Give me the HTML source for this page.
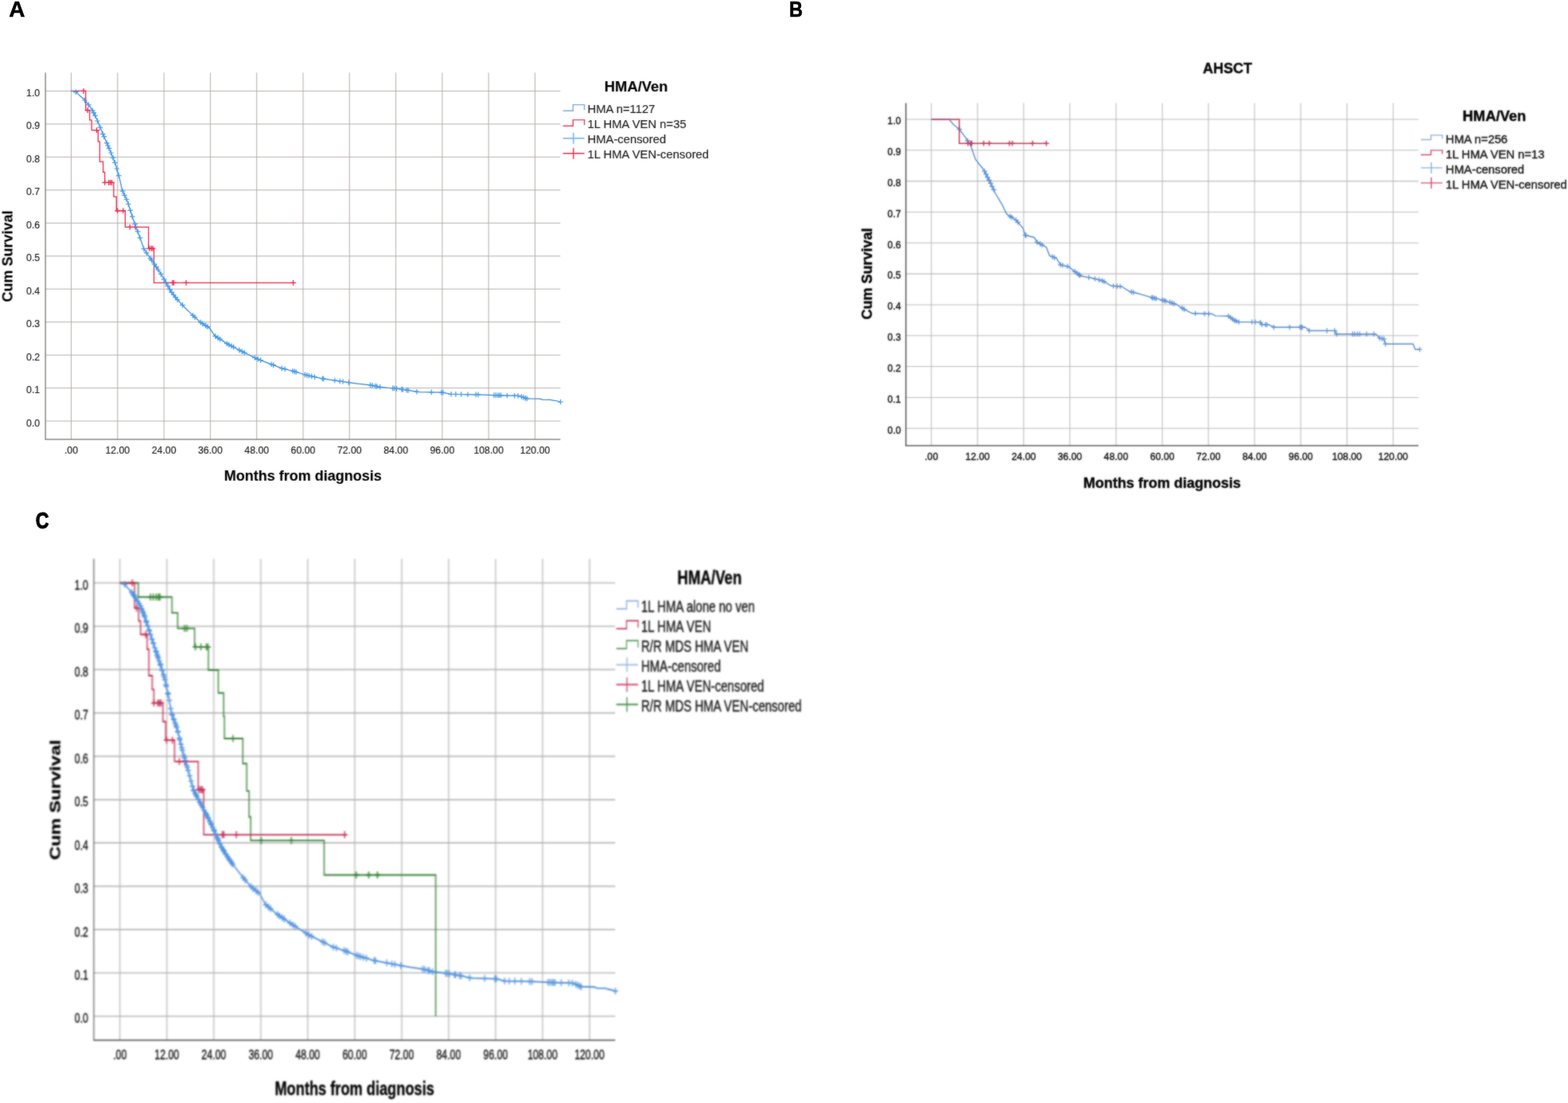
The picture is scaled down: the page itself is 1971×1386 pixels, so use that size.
<!DOCTYPE html>
<html lang="en">
<head>
<meta charset="utf-8">
<title>Kaplan-Meier survival curves</title>
<style>
html,body{margin:0;padding:0;background:#fff;}
body{width:1971px;height:1386px;overflow:hidden;font-family:"Liberation Sans",Arial,sans-serif;}
svg{display:block;}
svg text{font-family:"Liberation Sans",Arial,sans-serif;}
#panelC text{stroke:#0a0a0a;stroke-width:0.3px;}
#panelB text{stroke:#0a0a0a;stroke-width:0.4px;}
#panelA text{stroke:#151515;stroke-width:0.15px;}
</style>
</head>
<body>
<svg width="1971" height="1386" viewBox="0 0 1971 1386" font-family="'Liberation Sans', Arial, sans-serif">
<defs><filter id="bA" x="-3%" y="-3%" width="106%" height="106%" color-interpolation-filters="sRGB"><feGaussianBlur stdDeviation="0.8" result="b"/><feComposite in="b" in2="SourceGraphic" operator="arithmetic" k1="0" k2="0.35" k3="0.65" k4="0"/></filter><filter id="bB" x="-3%" y="-3%" width="106%" height="106%" color-interpolation-filters="sRGB"><feGaussianBlur stdDeviation="0.8" result="b"/><feComposite in="b" in2="SourceGraphic" operator="arithmetic" k1="0" k2="0.6" k3="0.4" k4="0"/></filter><filter id="bC" x="-3%" y="-3%" width="106%" height="106%" color-interpolation-filters="sRGB"><feGaussianBlur stdDeviation="0.8" result="b"/><feComposite in="b" in2="SourceGraphic" operator="arithmetic" k1="0" k2="0.85" k3="0.15" k4="0"/></filter></defs>
<rect width="1971" height="1386" fill="#fff"/>
<text transform="translate(11.2 20.6) scale(0.98 1)" font-size="28.5" font-weight="bold" text-anchor="start" fill="#000" stroke="#000" stroke-width="0.6" stroke-linejoin="round">A</text>
<text transform="translate(992 20.6) scale(0.83 1)" font-size="28.5" font-weight="bold" text-anchor="start" fill="#000" stroke="#000" stroke-width="0.6" stroke-linejoin="round">B</text>
<text transform="translate(44.7 664) scale(0.79 1)" font-size="29.3" font-weight="bold" text-anchor="start" fill="#000" stroke="#000" stroke-width="1" stroke-linejoin="round">C</text>
<g id="panelA" filter="url(#bA)"><g class="plot">
<path d="M89.5,91.3V552M147.8,91.3V552M206.1,91.3V552M264.4,91.3V552M322.7,91.3V552M381,91.3V552M439.3,91.3V552M497.6,91.3V552M555.9,91.3V552M614.2,91.3V552M672.5,91.3V552M57.1,529.1H704.4M57.1,487.6H704.4M57.1,446.2H704.4M57.1,404.7H704.4M57.1,363.2H704.4M57.1,321.8H704.4M57.1,280.3H704.4M57.1,238.8H704.4M57.1,197.3H704.4M57.1,155.9H704.4M57.1,114.4H704.4" stroke="#b4afa8" stroke-width="1.0" fill="none"/>
<path d="M57.1,91.3V552H704.4" stroke="#77736c" stroke-width="1.25" fill="none"/>
<polyline points="89.5,114.4 107.7,114.4 107.7,138.5 112.7,138.5 112.7,150.9 115.2,150.9 115.2,163.7 123.3,163.7 123.3,177.8 125.4,177.8 125.4,203.1 129.6,203.1 129.6,216.4 131.7,216.4 131.7,229.3 142.9,229.3 142.9,247.1 146.3,247.1 146.3,264.9 157.4,264.9 157.4,285.3 186.7,285.3 186.7,312.2 193.5,312.2 193.5,355.3 368.6,355.3" fill="none" stroke="#ee2045" stroke-width="1.25" />
<path d="M101.6,114.4h6.8M105,111v6.8M106.8,138.5h6.8M110.2,135.1v6.8M118.2,163.7h6.8M121.6,160.3v6.8M128.3,229.3h6.8M131.7,225.9v6.8M133.2,229.3h6.8M136.6,225.9v6.8M135.2,229.3h6.8M138.6,225.9v6.8M137.1,229.3h6.8M140.5,225.9v6.8M144.2,264.9h6.8M147.6,261.5v6.8M151.4,264.9h6.8M154.8,261.5v6.8M159.9,285.3h6.8M163.3,281.9v6.8M166.7,285.3h6.8M170.1,281.9v6.8M184.2,312.2h6.8M187.6,308.8v6.8M186.7,312.2h6.8M190.1,308.8v6.8M188.6,312.2h6.8M192,308.8v6.8M213.4,355.3h6.8M216.8,351.9v6.8M215.1,355.3h6.8M218.5,351.9v6.8M230.6,355.3h6.8M234,351.9v6.8M365.2,355.3h6.8M368.6,351.9v6.8" fill="none" stroke="#ee2045" stroke-width="1.3"/>
<polyline points="89.5,114.4 94.4,115 96,116.1 99.4,119.4 104.7,123.9 109.1,128.9 114.9,136.4 119.5,145.1 123.7,154.6 129.5,168.7 134.3,179.9 139.7,192.4 145.3,206.5 150.4,224.7 153.5,238.8 160.7,254.2 167,274.5 174.5,294.8 180.8,312.6 189.6,325.5 199.8,340.4 206.1,350.8 214.8,366.1 222.6,376.1 229.9,384 242.5,396.4 252.7,405.5 262.9,411.7 270.2,422.1 285.8,432.1 303.3,441.2 323.7,451.1 341.2,457.8 353.8,462.7 368.9,466.5 383.9,471 404.3,475.6 429.6,479.3 449.5,482.2 465.5,483.9 478.2,486.4 495.7,488 511.2,490.1 526.3,492.6 556.4,493.2 566.6,495.3 602.1,495.9 626.8,496.8 652.1,497.3 662.3,500.9 678.8,501.1 681.7,502.1 691.9,502.4 695.3,503.2 701.2,504 702.6,505 705.1,505" fill="none" stroke="#3585d8" stroke-width="1.25" stroke-linejoin="round"/>
<path d="M92,115.7h6.6M95.3,112.4v6.6M103.2,126h6.6M106.5,122.7v6.6M108.1,131.8h6.6M111.4,128.5v6.6M112.9,138.9h6.6M116.2,135.6v6.6M114.4,141.6h6.6M117.7,138.3v6.6M116.3,145.3h6.6M119.6,142v6.6M119.2,152h6.6M122.5,148.7v6.6M122.6,160.1h6.6M125.9,156.8v6.6M126,168.4h6.6M129.3,165.1v6.6M127.5,171.7h6.6M130.8,168.4v6.6M130.9,179.6h6.6M134.2,176.3v6.6M132.4,183h6.6M135.7,179.7v6.6M133.8,186.4h6.6M137.1,183.1v6.6M136.2,192h6.6M139.5,188.7v6.6M138.7,198.1h6.6M142,194.8v6.6M141.1,204.3h6.6M144.4,201v6.6M143.5,212h6.6M146.8,208.7v6.6M146,220.7h6.6M149.3,217.4v6.6M150.8,240.1h6.6M154.1,236.8v6.6M153.2,245.3h6.6M156.5,242v6.6M155.7,250.5h6.6M159,247.2v6.6M158.1,256.5h6.6M161.4,253.2v6.6M160.5,264.3h6.6M163.8,261v6.6M163,272.1h6.6M166.3,268.8v6.6M166.4,281.7h6.6M169.7,278.4v6.6M169.8,290.9h6.6M173.1,287.6v6.6M172.7,298.9h6.6M176,295.6v6.6M177.5,312.6h6.6M180.8,309.3v6.6M180.9,317.6h6.6M184.2,314.3v6.6M185.8,324.8h6.6M189.1,321.5v6.6M187.3,326.9h6.6M190.6,323.6v6.6M190.7,331.9h6.6M194,328.6v6.6M193.1,335.4h6.6M196.4,332.1v6.6M195.5,339h6.6M198.8,335.7v6.6M198.9,344.4h6.6M202.2,341.1v6.6M202.8,350.8h6.6M206.1,347.5v6.6M205.2,355h6.6M208.5,351.7v6.6M207.7,359.3h6.6M211,356v6.6M210.1,363.6h6.6M213.4,360.3v6.6M212.5,367.4h6.6M215.8,364.1v6.6M214.9,370.5h6.6M218.2,367.2v6.6M217.4,373.6h6.6M220.7,370.3v6.6M219.8,376.6h6.6M223.1,373.3v6.6M226.1,383.4h6.6M229.4,380.1v6.6M239.2,396.4h6.6M242.5,393.1v6.6M241.7,398.6h6.6M245,395.3v6.6M249,405.1h6.6M252.3,401.8v6.6M251.4,406.7h6.6M254.7,403.4v6.6M255.3,409.1h6.6M258.6,405.8v6.6M257.7,410.6h6.6M261,407.3v6.6M267.4,422.4h6.6M270.7,419.1v6.6M270.8,424.6h6.6M274.1,421.3v6.6M273.2,426.2h6.6M276.5,422.9v6.6M282,431.7h6.6M285.3,428.4v6.6M284.4,433.1h6.6M287.7,429.8v6.6M287.8,434.8h6.6M291.1,431.5v6.6M290.2,436.1h6.6M293.6,432.8v6.6M297.5,439.9h6.6M300.8,436.6v6.6M300.9,441.7h6.6M304.2,438.4v6.6M303.9,443.1h6.6M307.2,439.8v6.6M317,449.5h6.6M320.3,446.2v6.6M320.9,451.3h6.6M324.2,448v6.6M324.3,452.6h6.6M327.6,449.3v6.6M337.9,457.8h6.6M341.2,454.5v6.6M340.3,458.7h6.6M343.6,455.4v6.6M351,462.9h6.6M354.3,459.6v6.6M354.9,463.8h6.6M358.2,460.5v6.6M364.6,466.2h6.6M367.9,462.9v6.6M367,466.9h6.6M370.3,463.6v6.6M369,467.5h6.6M372.3,464.2v6.6M380.1,470.9h6.6M383.4,467.6v6.6M382.6,471.5h6.6M385.9,468.2v6.6M385,472h6.6M388.3,468.7v6.6M388.4,472.8h6.6M391.7,469.5v6.6M392.3,473.6h6.6M395.6,470.3v6.6M402,475.7h6.6M405.3,472.4v6.6M403.4,476h6.6M406.7,472.7v6.6M417.5,478h6.6M420.8,474.7v6.6M423.9,479h6.6M427.2,475.7v6.6M427.7,479.5h6.6M431,476.2v6.6M435,480.6h6.6M438.3,477.3v6.6M462.2,483.9h6.6M465.5,480.6v6.6M464.7,484.4h6.6M468,481.1v6.6M468.6,485.1h6.6M471.9,481.8v6.6M470.5,485.5h6.6M473.8,482.2v6.6M474.4,486.3h6.6M477.7,483v6.6M490.4,487.9h6.6M493.7,484.6v6.6M492.4,488h6.6M495.7,484.7v6.6M495.3,488.4h6.6M498.6,485.1v6.6M501.6,489.3h6.6M504.9,486v6.6M503,489.5h6.6M506.3,486.2v6.6M507.9,490.1h6.6M511.2,486.8v6.6M509.8,490.4h6.6M513.1,487.1v6.6M520.5,492.2h6.6M523.8,488.9v6.6M539,492.9h6.6M542.3,489.6v6.6M551.6,493.2h6.6M554.9,489.9v6.6M553.6,493.3h6.6M556.9,490v6.6M563.8,495.3h6.6M567.1,492v6.6M569.6,495.4h6.6M572.9,492.1v6.6M576.4,495.5h6.6M579.7,492.2v6.6M584.7,495.7h6.6M588,492.4v6.6M594.9,495.9h6.6M598.2,492.6v6.6M597.8,495.9h6.6M601.1,492.6v6.6M617.7,496.6h6.6M621,493.3v6.6M620.1,496.6h6.6M623.4,493.3v6.6M622.6,496.7h6.6M625.9,493.4v6.6M624.5,496.8h6.6M627.8,493.5v6.6M626.4,496.8h6.6M629.7,493.5v6.6M634.2,497h6.6M637.5,493.7v6.6M643.5,497.2h6.6M646.8,493.9v6.6M647.8,497.3h6.6M651.1,494v6.6M652.2,498.5h6.6M655.5,495.2v6.6M654.6,499.4h6.6M657.9,496.1v6.6M657.1,500.2h6.6M660.4,496.9v6.6M659,500.9h6.6M662.3,497.6v6.6M701.3,505h6.6M704.6,501.7v6.6" fill="none" stroke="#3f98e8" stroke-width="1.2"/>
</g>
<g class="tk" style="font-size:13.6px" fill="#151515">
<text transform="translate(50.2 535.5) scale(0.905 1)" font-size="13.6" font-weight="normal" text-anchor="end" fill="#151515">0.0</text>
<text transform="translate(50.2 494) scale(0.905 1)" font-size="13.6" font-weight="normal" text-anchor="end" fill="#151515">0.1</text>
<text transform="translate(50.2 452.6) scale(0.905 1)" font-size="13.6" font-weight="normal" text-anchor="end" fill="#151515">0.2</text>
<text transform="translate(50.2 411.1) scale(0.905 1)" font-size="13.6" font-weight="normal" text-anchor="end" fill="#151515">0.3</text>
<text transform="translate(50.2 369.6) scale(0.905 1)" font-size="13.6" font-weight="normal" text-anchor="end" fill="#151515">0.4</text>
<text transform="translate(50.2 328.1) scale(0.905 1)" font-size="13.6" font-weight="normal" text-anchor="end" fill="#151515">0.5</text>
<text transform="translate(50.2 286.7) scale(0.905 1)" font-size="13.6" font-weight="normal" text-anchor="end" fill="#151515">0.6</text>
<text transform="translate(50.2 245.2) scale(0.905 1)" font-size="13.6" font-weight="normal" text-anchor="end" fill="#151515">0.7</text>
<text transform="translate(50.2 203.7) scale(0.905 1)" font-size="13.6" font-weight="normal" text-anchor="end" fill="#151515">0.8</text>
<text transform="translate(50.2 162.3) scale(0.905 1)" font-size="13.6" font-weight="normal" text-anchor="end" fill="#151515">0.9</text>
<text transform="translate(50.2 120.8) scale(0.905 1)" font-size="13.6" font-weight="normal" text-anchor="end" fill="#151515">1.0</text>
<text transform="translate(89.5 570.4) scale(0.905 1)" font-size="13.6" font-weight="normal" text-anchor="middle" fill="#151515">.00</text>
<text transform="translate(147.8 570.4) scale(0.905 1)" font-size="13.6" font-weight="normal" text-anchor="middle" fill="#151515">12.00</text>
<text transform="translate(206.1 570.4) scale(0.905 1)" font-size="13.6" font-weight="normal" text-anchor="middle" fill="#151515">24.00</text>
<text transform="translate(264.4 570.4) scale(0.905 1)" font-size="13.6" font-weight="normal" text-anchor="middle" fill="#151515">36.00</text>
<text transform="translate(322.7 570.4) scale(0.905 1)" font-size="13.6" font-weight="normal" text-anchor="middle" fill="#151515">48.00</text>
<text transform="translate(381 570.4) scale(0.905 1)" font-size="13.6" font-weight="normal" text-anchor="middle" fill="#151515">60.00</text>
<text transform="translate(439.3 570.4) scale(0.905 1)" font-size="13.6" font-weight="normal" text-anchor="middle" fill="#151515">72.00</text>
<text transform="translate(497.6 570.4) scale(0.905 1)" font-size="13.6" font-weight="normal" text-anchor="middle" fill="#151515">84.00</text>
<text transform="translate(555.9 570.4) scale(0.905 1)" font-size="13.6" font-weight="normal" text-anchor="middle" fill="#151515">96.00</text>
<text transform="translate(614.2 570.4) scale(0.905 1)" font-size="13.6" font-weight="normal" text-anchor="middle" fill="#151515">108.00</text>
<text transform="translate(672.5 570.4) scale(0.905 1)" font-size="13.6" font-weight="normal" text-anchor="middle" fill="#151515">120.00</text>
</g>
<text x="380.8" y="604.4" font-size="18" font-weight="bold" text-anchor="middle" fill="#000">Months from diagnosis</text>
<text transform="translate(15.6 322) rotate(-90)" font-size="18" font-weight="bold" text-anchor="middle" fill="#000">Cum Survival</text>
<text x="799.7" y="115.4" font-size="18.4" font-weight="bold" text-anchor="middle" fill="#000">HMA/Ven</text>
<path d="M707.6,139.2h12.7v-7.6h14.3v6.6" fill="none" stroke="#7fa6e0" stroke-width="1.4"/>
<text transform="translate(738.5 142.3) scale(0.975 1)" font-size="15.2" font-weight="normal" text-anchor="start" fill="#1c1c1c">HMA n=1127</text>
<path d="M707.6,158.2h12.7v-7.6h14.3v6.6" fill="none" stroke="#ee3a5a" stroke-width="1.4"/>
<text transform="translate(738.5 161.3) scale(0.975 1)" font-size="15.2" font-weight="normal" text-anchor="start" fill="#1c1c1c">1L HMA VEN n=35</text>
<path d="M707.6,173.7h27M720.8,166.7v14" fill="none" stroke="#6aaeea" stroke-width="1.4"/>
<text transform="translate(738.5 180.3) scale(0.975 1)" font-size="15.2" font-weight="normal" text-anchor="start" fill="#1c1c1c">HMA-censored</text>
<path d="M707.6,192.7h27M720.8,185.7v14" fill="none" stroke="#ee2a4a" stroke-width="1.4"/>
<text transform="translate(738.5 199.3) scale(0.975 1)" font-size="15.2" font-weight="normal" text-anchor="start" fill="#1c1c1c">1L HMA VEN-censored</text></g>
<g id="panelB"><g filter="url(#bB)">
<g class="plot">
<path d="M1170.7,129.4V560M1228.8,129.4V560M1286.8,129.4V560M1344.8,129.4V560M1402.9,129.4V560M1461,129.4V560M1519,129.4V560M1577,129.4V560M1635.1,129.4V560M1693.2,129.4V560M1751.2,129.4V560M1138.7,538.2H1783M1138.7,499.4H1783M1138.7,460.5H1783M1138.7,421.7H1783M1138.7,382.9H1783M1138.7,344.1H1783M1138.7,305.2H1783M1138.7,266.4H1783M1138.7,227.6H1783M1138.7,188.7H1783M1138.7,149.9H1783" stroke="#bababa" stroke-width="1.05" fill="none"/>
<path d="M1138.7,129.4V560H1783" stroke="#5c5c5c" stroke-width="1.6" fill="none"/>
<polyline points="1170.7,149.9 1193,149.9 1199.2,157.3 1206,162.3 1213.3,172.4 1220,182.5 1226.3,200.4 1236.5,213.2 1244.2,228.3 1251.5,243.5 1259.2,256.3 1265.5,269.1 1277.1,276.5 1285.8,286.6 1288.7,295.5 1299.9,298.2 1303.7,304.4 1315.3,310.7 1319.2,321.1 1327.9,324.6 1333.2,332.8 1343.4,335.1 1351.1,341.3 1358.4,346.8 1371.5,349.1 1386.5,353 1396.6,359.2 1409.7,360 1419.8,366.2 1432.4,369.3 1447.9,373.9 1461,377.1 1470.6,379.8 1478.4,382.5 1488.5,388.7 1498.7,393.8 1523.8,394.5 1527.7,396.9 1544.2,397.2 1551.9,402.7 1557.2,404.6 1583.8,404.6 1586.2,407.7 1594.9,408.1 1601.2,411.2 1640.9,411.2 1645.7,415.5 1677.7,415.5 1680.1,419.8 1729.4,419.8 1734.3,425 1739.6,426 1741.5,432.2 1776.4,432.2 1778.8,439 1784.6,439" fill="none" stroke="#5388d4" stroke-width="1.4" stroke-linejoin="round"/>
<path d="M1448.1,374.8h6.4M1451.3,371.6v6.4M1450,375.2h6.4M1453.2,372v6.4M1457.8,377.1h6.4M1461,373.9v6.4M1460.2,377.7h6.4M1463.4,374.5v6.4M1462.1,378.3h6.4M1465.3,375.1v6.4M1202.8,162.3h6.4M1206,159.1v6.4M1213,176.7h6.4M1216.2,173.5v6.4M1234.3,215.1h6.4M1237.5,211.9v6.4M1236.2,218.9h6.4M1239.4,215.7v6.4M1238.1,222.7h6.4M1241.3,219.5v6.4M1240.1,226.4h6.4M1243.3,223.2v6.4M1242,230.4h6.4M1245.2,227.2v6.4M1243.9,234.4h6.4M1247.1,231.2v6.4M1245.9,238.4h6.4M1249.1,235.2v6.4M1266.7,271.9h6.4M1269.9,268.7v6.4M1268.6,273.1h6.4M1271.8,269.9v6.4M1273.9,276.5h6.4M1277.1,273.3v6.4M1276.3,279.3h6.4M1279.5,276.1v6.4M1285.5,295.5h6.4M1288.7,292.3v6.4M1286.5,295.7h6.4M1289.7,292.5v6.4M1300.5,304.4h6.4M1303.7,301.2v6.4M1304.4,306.5h6.4M1307.6,303.3v6.4M1306.8,307.8h6.4M1310,304.6v6.4M1319.9,322.7h6.4M1323.1,319.5v6.4M1322.3,323.7h6.4M1325.5,320.5v6.4M1330,332.8h6.4M1333.2,329.6v6.4M1332.5,333.3h6.4M1335.7,330.1v6.4M1338.7,334.8h6.4M1341.9,331.6v6.4M1347.9,341.3h6.4M1351.1,338.1v6.4M1350.4,343.1h6.4M1353.6,339.9v6.4M1352.8,345h6.4M1356,341.8v6.4M1354.2,346h6.4M1357.4,342.8v6.4M1365.4,348.6h6.4M1368.6,345.4v6.4M1373.1,350.4h6.4M1376.3,347.2v6.4M1378.4,351.7h6.4M1381.6,348.5v6.4M1382.3,352.7h6.4M1385.5,349.5v6.4M1384.7,353.9h6.4M1387.9,350.7v6.4M1396.3,359.4h6.4M1399.5,356.2v6.4M1401.2,359.7h6.4M1404.4,356.5v6.4M1405,359.9h6.4M1408.2,356.7v6.4M1419,366.8h6.4M1422.2,363.6v6.4M1421.5,367.4h6.4M1424.7,364.2v6.4M1444.7,373.9h6.4M1447.9,370.7v6.4M1445.7,374.2h6.4M1448.9,371v6.4M1467.4,379.8h6.4M1470.6,376.6v6.4M1470.3,380.8h6.4M1473.5,377.6v6.4M1472.7,381.6h6.4M1475.9,378.4v6.4M1482.9,387.2h6.4M1486.1,384v6.4M1485.3,388.7h6.4M1488.5,385.5v6.4M1499.4,393.9h6.4M1502.6,390.7v6.4M1511,394.2h6.4M1514.2,391v6.4M1516.3,394.4h6.4M1519.5,391.2v6.4M1541,397.2h6.4M1544.2,394v6.4M1543.9,399.3h6.4M1547.1,396.1v6.4M1546.3,401h6.4M1549.5,397.8v6.4M1548.7,402.7h6.4M1551.9,399.5v6.4M1550.6,403.4h6.4M1553.8,400.2v6.4M1554,404.6h6.4M1557.2,401.4v6.4M1570.5,404.6h6.4M1573.7,401.4v6.4M1574.8,404.6h6.4M1578,401.4v6.4M1581.1,405.2h6.4M1584.3,402v6.4M1583,407.7h6.4M1586.2,404.5v6.4M1587.4,407.9h6.4M1590.6,404.7v6.4M1589.3,408h6.4M1592.5,404.8v6.4M1598,411.2h6.4M1601.2,408v6.4M1617.9,411.2h6.4M1621.1,408v6.4M1630.9,411.2h6.4M1634.1,408v6.4M1632.4,411.2h6.4M1635.6,408v6.4M1633.8,411.2h6.4M1637,408v6.4M1642.5,415.5h6.4M1645.7,412.3v6.4M1664.8,415.5h6.4M1668,412.3v6.4M1674.5,415.5h6.4M1677.7,412.3v6.4M1676.9,419.8h6.4M1680.1,416.6v6.4M1697.2,419.8h6.4M1700.4,416.6v6.4M1699.6,419.8h6.4M1702.8,416.6v6.4M1703,419.8h6.4M1706.2,416.6v6.4M1705.9,419.8h6.4M1709.1,416.6v6.4M1714.6,419.8h6.4M1717.8,416.6v6.4M1723.8,419.8h6.4M1727,416.6v6.4M1731.1,425h6.4M1734.3,421.8v6.4M1734,425.5h6.4M1737.2,422.3v6.4M1736.4,426h6.4M1739.6,422.8v6.4M1738.3,432.2h6.4M1741.5,429v6.4M1781.4,439h6.4M1784.6,435.8v6.4" fill="none" stroke="#5a8fd8" stroke-width="1.2"/>
<polyline points="1170.7,149.9 1205.8,149.9 1205.8,180.2 1315.3,180.2" fill="none" stroke="#c8355a" stroke-width="1.5" />
<path d="M1213.3,180.2h6.8M1216.7,176.8v6.8M1216.6,180.2h6.8M1220,176.8v6.8M1218.1,180.2h6.8M1221.5,176.8v6.8M1233.1,180.2h6.8M1236.5,176.8v6.8M1240.1,180.2h6.8M1243.5,176.8v6.8M1265.5,180.2h6.8M1268.9,176.8v6.8M1269.1,180.2h6.8M1272.5,176.8v6.8M1294.5,180.2h6.8M1297.9,176.8v6.8M1311.9,180.2h6.8M1315.3,176.8v6.8" fill="none" stroke="#c8355a" stroke-width="1.4"/>
</g>
<g class="tk" style="font-size:13.6px" fill="#111">
<text transform="translate(1132.6 544.6) scale(0.9 1)" font-size="13.6" font-weight="normal" text-anchor="end" fill="#111">0.0</text>
<text transform="translate(1132.6 505.8) scale(0.9 1)" font-size="13.6" font-weight="normal" text-anchor="end" fill="#111">0.1</text>
<text transform="translate(1132.6 466.9) scale(0.9 1)" font-size="13.6" font-weight="normal" text-anchor="end" fill="#111">0.2</text>
<text transform="translate(1132.6 428.1) scale(0.9 1)" font-size="13.6" font-weight="normal" text-anchor="end" fill="#111">0.3</text>
<text transform="translate(1132.6 389.3) scale(0.9 1)" font-size="13.6" font-weight="normal" text-anchor="end" fill="#111">0.4</text>
<text transform="translate(1132.6 350.4) scale(0.9 1)" font-size="13.6" font-weight="normal" text-anchor="end" fill="#111">0.5</text>
<text transform="translate(1132.6 311.6) scale(0.9 1)" font-size="13.6" font-weight="normal" text-anchor="end" fill="#111">0.6</text>
<text transform="translate(1132.6 272.8) scale(0.9 1)" font-size="13.6" font-weight="normal" text-anchor="end" fill="#111">0.7</text>
<text transform="translate(1132.6 234) scale(0.9 1)" font-size="13.6" font-weight="normal" text-anchor="end" fill="#111">0.8</text>
<text transform="translate(1132.6 195.1) scale(0.9 1)" font-size="13.6" font-weight="normal" text-anchor="end" fill="#111">0.9</text>
<text transform="translate(1132.6 156.3) scale(0.9 1)" font-size="13.6" font-weight="normal" text-anchor="end" fill="#111">1.0</text>
<text transform="translate(1170.7 578.3) scale(0.9 1)" font-size="13.6" font-weight="normal" text-anchor="middle" fill="#111">.00</text>
<text transform="translate(1228.8 578.3) scale(0.9 1)" font-size="13.6" font-weight="normal" text-anchor="middle" fill="#111">12.00</text>
<text transform="translate(1286.8 578.3) scale(0.9 1)" font-size="13.6" font-weight="normal" text-anchor="middle" fill="#111">24.00</text>
<text transform="translate(1344.8 578.3) scale(0.9 1)" font-size="13.6" font-weight="normal" text-anchor="middle" fill="#111">36.00</text>
<text transform="translate(1402.9 578.3) scale(0.9 1)" font-size="13.6" font-weight="normal" text-anchor="middle" fill="#111">48.00</text>
<text transform="translate(1461 578.3) scale(0.9 1)" font-size="13.6" font-weight="normal" text-anchor="middle" fill="#111">60.00</text>
<text transform="translate(1519 578.3) scale(0.9 1)" font-size="13.6" font-weight="normal" text-anchor="middle" fill="#111">72.00</text>
<text transform="translate(1577 578.3) scale(0.9 1)" font-size="13.6" font-weight="normal" text-anchor="middle" fill="#111">84.00</text>
<text transform="translate(1635.1 578.3) scale(0.9 1)" font-size="13.6" font-weight="normal" text-anchor="middle" fill="#111">96.00</text>
<text transform="translate(1693.2 578.3) scale(0.9 1)" font-size="13.6" font-weight="normal" text-anchor="middle" fill="#111">108.00</text>
<text transform="translate(1751.2 578.3) scale(0.9 1)" font-size="13.6" font-weight="normal" text-anchor="middle" fill="#111">120.00</text>
</g>
<text x="1460.8" y="613.3" font-size="18" font-weight="bold" text-anchor="middle" fill="#000">Months from diagnosis</text>
<text transform="translate(1096 344) rotate(-90)" font-size="18" font-weight="bold" text-anchor="middle" fill="#000">Cum Survival</text>
<text x="1543" y="92" font-size="18" font-weight="bold" text-anchor="middle" fill="#000">AHSCT</text>
<text x="1878.4" y="152.3" font-size="18.4" font-weight="bold" text-anchor="middle" fill="#000">HMA/Ven</text>
<path d="M1786,175.5h12.7v-5.6h14.3v4.6" fill="none" stroke="#8fb0e0" stroke-width="1.4"/>
<text transform="translate(1817.3 179.5) scale(0.975 1)" font-size="15.2" font-weight="normal" text-anchor="start" fill="#1c1c1c">HMA n=256</text>
<path d="M1786,194.5h12.7v-5.6h14.3v4.6" fill="none" stroke="#d04a6c" stroke-width="1.4"/>
<text transform="translate(1817.3 198.5) scale(0.975 1)" font-size="15.2" font-weight="normal" text-anchor="start" fill="#1c1c1c">1L HMA VEN n=13</text>
<path d="M1786,210.9h27M1799.2,203.9v14" fill="none" stroke="#7fb0ea" stroke-width="1.4"/>
<text transform="translate(1817.3 217.5) scale(0.975 1)" font-size="15.2" font-weight="normal" text-anchor="start" fill="#1c1c1c">HMA-censored</text>
<path d="M1786,229.9h27M1799.2,222.9v14" fill="none" stroke="#d04a6c" stroke-width="1.4"/>
<text transform="translate(1817.3 236.5) scale(0.975 1)" font-size="15.2" font-weight="normal" text-anchor="start" fill="#1c1c1c">1L HMA VEN-censored</text>
</g></g>
<g id="panelC" transform="translate(60.08 582.3) scale(1.0125 1.313)"><g filter="url(#bC)"><g class="plot">
<path d="M89.5,91.3V552M147.8,91.3V552M206.1,91.3V552M264.4,91.3V552M322.7,91.3V552M381,91.3V552M439.3,91.3V552M497.6,91.3V552M555.9,91.3V552M614.2,91.3V552M672.5,91.3V552M57.1,529.1H704.4M57.1,487.6H704.4M57.1,446.2H704.4M57.1,404.7H704.4M57.1,363.2H704.4M57.1,321.8H704.4M57.1,280.3H704.4M57.1,238.8H704.4M57.1,197.3H704.4M57.1,155.9H704.4M57.1,114.4H704.4" stroke="#b6b6b6" stroke-width="1.3" fill="none"/>
<path d="M57.1,91.3V552H704.4" stroke="#606060" stroke-width="1.25" fill="none"/>
<polyline points="89.5,114.4 112.3,114.4 112.3,127.9 154.1,127.9 154.1,143 161.2,143 161.2,157.9 182.3,157.9 182.3,175.6 199.3,175.6 199.3,197.8 211.7,197.8 211.7,219.7 218.2,219.7 218.2,242.1 219.2,242.1 219.2,263.3 242.1,263.3 242.1,287.3 246.9,287.3 246.9,313.5 249.8,313.5 249.8,338.3 251.8,338.3 251.8,360.9 343.1,360.9 343.1,393.9 481.6,393.9 481.6,529.1" fill="none" stroke="#32802f" stroke-width="1.4" />
<path d="M124,127.9h6.8M127.4,124.5v6.8M127.6,127.9h6.8M131,124.5v6.8M131.3,127.9h6.8M134.7,124.5v6.8M134,127.9h6.8M137.4,124.5v6.8M135.7,127.9h6.8M139.1,124.5v6.8M166.3,157.9h6.8M169.7,154.5v6.8M169.2,157.9h6.8M172.6,154.5v6.8M179.9,175.6h6.8M183.3,172.2v6.8M186.7,175.6h6.8M190.1,172.2v6.8M193.5,175.6h6.8M196.9,172.2v6.8M195.4,175.6h6.8M198.8,172.2v6.8M226.5,263.3h6.8M229.9,259.9v6.8M261.5,360.9h6.8M264.9,357.5v6.8M298.9,360.9h6.8M302.3,357.5v6.8M379.5,393.9h6.8M382.9,390.5v6.8M395.1,393.9h6.8M398.5,390.5v6.8M405.8,393.9h6.8M409.2,390.5v6.8" fill="none" stroke="#32802f" stroke-width="1.4"/>
<polyline points="89.5,114.4 107.7,114.4 107.7,138.5 112.7,138.5 112.7,150.9 115.2,150.9 115.2,163.7 123.3,163.7 123.3,177.8 125.4,177.8 125.4,203.1 129.6,203.1 129.6,216.4 131.7,216.4 131.7,229.3 142.9,229.3 142.9,247.1 146.3,247.1 146.3,264.9 157.4,264.9 157.4,285.3 186.7,285.3 186.7,312.2 193.5,312.2 193.5,355.3 368.6,355.3" fill="none" stroke="#c9274f" stroke-width="1.4" />
<path d="M101.6,114.4h6.8M105,111v6.8M106.8,138.5h6.8M110.2,135.1v6.8M118.2,163.7h6.8M121.6,160.3v6.8M128.3,229.3h6.8M131.7,225.9v6.8M133.2,229.3h6.8M136.6,225.9v6.8M135.2,229.3h6.8M138.6,225.9v6.8M137.1,229.3h6.8M140.5,225.9v6.8M144.2,264.9h6.8M147.6,261.5v6.8M151.4,264.9h6.8M154.8,261.5v6.8M159.9,285.3h6.8M163.3,281.9v6.8M166.7,285.3h6.8M170.1,281.9v6.8M184.2,312.2h6.8M187.6,308.8v6.8M186.7,312.2h6.8M190.1,308.8v6.8M188.6,312.2h6.8M192,308.8v6.8M213.4,355.3h6.8M216.8,351.9v6.8M215.1,355.3h6.8M218.5,351.9v6.8M230.6,355.3h6.8M234,351.9v6.8M365.2,355.3h6.8M368.6,351.9v6.8" fill="none" stroke="#c9274f" stroke-width="1.4"/>
<polyline points="89.5,114.4 94.4,115 96,116.1 99.4,119.4 104.7,123.9 109.1,128.9 114.9,136.4 119.5,145.1 123.7,154.6 129.5,168.7 134.3,179.9 139.7,192.4 145.3,206.5 150.4,224.7 153.5,238.8 160.7,254.2 167,274.5 174.5,294.8 180.8,312.6 189.6,325.5 199.8,340.4 206.1,350.8 214.8,366.1 222.6,376.1 229.9,384 242.5,396.4 252.7,405.5 262.9,411.7 270.2,422.1 285.8,432.1 303.3,441.2 323.7,451.1 341.2,457.8 353.8,462.7 368.9,466.5 383.9,471 404.3,475.6 429.6,479.3 449.5,482.2 465.5,483.9 478.2,486.4 495.7,488 511.2,490.1 526.3,492.6 556.4,493.2 566.6,495.3 602.1,495.9 626.8,496.8 652.1,497.3 662.3,500.9 678.8,501.1 681.7,502.1 691.9,502.4 695.3,503.2 701.2,504 702.6,505 705.1,505" fill="none" stroke="#4588dc" stroke-width="1.35" stroke-linejoin="round"/>
<path d="M92,115.7h6.6M95.3,112.4v6.6M100.8,123.4h6.6M104.1,120.1v6.6M102.6,125.3h6.6M105.9,122v6.6M103.2,126h6.6M106.5,122.7v6.6M104.4,127.3h6.6M107.7,124v6.6M106.2,129.4h6.6M109.5,126.1v6.6M108,131.7h6.6M111.3,128.4v6.6M108.1,131.8h6.6M111.4,128.5v6.6M109.8,134h6.6M113.1,130.7v6.6M111.6,136.3h6.6M114.9,133v6.6M112.9,138.9h6.6M116.2,135.6v6.6M113.4,139.7h6.6M116.7,136.4v6.6M114.4,141.6h6.6M117.7,138.3v6.6M115.2,143.1h6.6M118.5,139.8v6.6M116.3,145.3h6.6M119.6,142v6.6M117,146.8h6.6M120.3,143.5v6.6M118.8,150.9h6.6M122.1,147.6v6.6M119.2,152h6.6M122.5,148.7v6.6M120.5,155.1h6.6M123.8,151.8v6.6M122.3,159.4h6.6M125.6,156.1v6.6M122.6,160.1h6.6M125.9,156.8v6.6M124.1,163.8h6.6M127.4,160.5v6.6M125.9,168.1h6.6M129.2,164.8v6.6M126,168.4h6.6M129.3,165.1v6.6M127.5,171.7h6.6M130.8,168.4v6.6M127.7,172.3h6.6M131,169v6.6M129.5,176.5h6.6M132.8,173.2v6.6M130.9,179.6h6.6M134.2,176.3v6.6M131.3,180.6h6.6M134.6,177.3v6.6M132.4,183h6.6M135.7,179.7v6.6M133.1,184.8h6.6M136.4,181.5v6.6M133.8,186.4h6.6M137.1,183.1v6.6M134.9,189h6.6M138.2,185.7v6.6M136.2,192h6.6M139.5,188.7v6.6M136.7,193.2h6.6M140,189.9v6.6M138.5,197.8h6.6M141.8,194.5v6.6M138.7,198.1h6.6M142,194.8v6.6M140.3,202.3h6.6M143.6,199v6.6M141.1,204.3h6.6M144.4,201v6.6M142.1,207h6.6M145.4,203.7v6.6M143.5,212h6.6M146.8,208.7v6.6M143.9,213.4h6.6M147.2,210.1v6.6M145.7,219.8h6.6M149,216.5v6.6M146,220.7h6.6M149.3,217.4v6.6M147.5,226.7h6.6M150.8,223.4v6.6M149.3,234.7h6.6M152.6,231.4v6.6M150.8,240.1h6.6M154.1,236.8v6.6M151.1,240.7h6.6M154.4,237.4v6.6M152.9,244.6h6.6M156.2,241.3v6.6M153.2,245.3h6.6M156.5,242v6.6M154.7,248.4h6.6M158,245.1v6.6M155.7,250.5h6.6M159,247.2v6.6M156.5,252.3h6.6M159.8,249v6.6M158.1,256.5h6.6M161.4,253.2v6.6M158.3,257.1h6.6M161.6,253.8v6.6M160.1,262.9h6.6M163.4,259.6v6.6M160.5,264.3h6.6M163.8,261v6.6M161.9,268.7h6.6M165.2,265.4v6.6M163,272.1h6.6M166.3,268.8v6.6M163.7,274.5h6.6M167,271.2v6.6M165.5,279.3h6.6M168.8,276v6.6M166.4,281.7h6.6M169.7,278.4v6.6M167.3,284.2h6.6M170.6,280.9v6.6M169.1,289h6.6M172.4,285.7v6.6M169.8,290.9h6.6M173.1,287.6v6.6M170.9,293.9h6.6M174.2,290.6v6.6M172.7,298.9h6.6M176,295.6v6.6M172.7,298.9h6.6M176,295.6v6.6M174.5,304h6.6M177.8,300.7v6.6M176.3,309.1h6.6M179.6,305.8v6.6M177.5,312.6h6.6M180.8,309.3v6.6M178.1,313.4h6.6M181.4,310.1v6.6M179.9,316.1h6.6M183.2,312.8v6.6M180.9,317.6h6.6M184.2,314.3v6.6M181.7,318.7h6.6M185,315.4v6.6M183.5,321.3h6.6M186.8,318v6.6M185.3,324h6.6M188.6,320.7v6.6M185.8,324.8h6.6M189.1,321.5v6.6M187.1,326.6h6.6M190.4,323.3v6.6M187.3,326.9h6.6M190.6,323.6v6.6M188.9,329.3h6.6M192.2,326v6.6M190.7,331.9h6.6M194,328.6v6.6M190.7,331.9h6.6M194,328.6v6.6M192.5,334.5h6.6M195.8,331.2v6.6M193.1,335.4h6.6M196.4,332.1v6.6M194.2,337.1h6.6M197.5,333.8v6.6M195.5,339h6.6M198.8,335.7v6.6M196,339.8h6.6M199.3,336.5v6.6M197.8,342.6h6.6M201.1,339.3v6.6M198.9,344.4h6.6M202.2,341.1v6.6M199.6,345.6h6.6M202.9,342.3v6.6M201.4,348.5h6.6M204.7,345.2v6.6M202.8,350.8h6.6M206.1,347.5v6.6M203.2,351.5h6.6M206.5,348.2v6.6M205,354.7h6.6M208.3,351.4v6.6M205.2,355h6.6M208.5,351.7v6.6M206.8,357.9h6.6M210.1,354.6v6.6M207.7,359.3h6.6M211,356v6.6M208.6,361h6.6M211.9,357.7v6.6M210.1,363.6h6.6M213.4,360.3v6.6M210.4,364.2h6.6M213.7,360.9v6.6M212.2,367h6.6M215.5,363.7v6.6M212.5,367.4h6.6M215.8,364.1v6.6M214,369.3h6.6M217.3,366v6.6M214.9,370.5h6.6M218.2,367.2v6.6M215.8,371.6h6.6M219.1,368.3v6.6M217.4,373.6h6.6M220.7,370.3v6.6M217.6,373.9h6.6M220.9,370.6v6.6M219.4,376.2h6.6M222.7,372.9v6.6M219.8,376.6h6.6M223.1,373.3v6.6M221.2,378.1h6.6M224.5,374.8v6.6M223,380.1h6.6M226.3,376.8v6.6M224.8,382h6.6M228.1,378.7v6.6M226.1,383.4h6.6M229.4,380.1v6.6M239.2,396.4h6.6M242.5,393.1v6.6M241.7,398.6h6.6M245,395.3v6.6M249,405.1h6.6M252.3,401.8v6.6M251.4,406.7h6.6M254.7,403.4v6.6M255.3,409.1h6.6M258.6,405.8v6.6M257.7,410.6h6.6M261,407.3v6.6M267.4,422.4h6.6M270.7,419.1v6.6M270.8,424.6h6.6M274.1,421.3v6.6M273.2,426.2h6.6M276.5,422.9v6.6M282,431.7h6.6M285.3,428.4v6.6M284.4,433.1h6.6M287.7,429.8v6.6M287.8,434.8h6.6M291.1,431.5v6.6M290.2,436.1h6.6M293.6,432.8v6.6M297.5,439.9h6.6M300.8,436.6v6.6M300.9,441.7h6.6M304.2,438.4v6.6M303.9,443.1h6.6M307.2,439.8v6.6M317,449.5h6.6M320.3,446.2v6.6M320.9,451.3h6.6M324.2,448v6.6M324.3,452.6h6.6M327.6,449.3v6.6M337.9,457.8h6.6M341.2,454.5v6.6M340.3,458.7h6.6M343.6,455.4v6.6M351,462.9h6.6M354.3,459.6v6.6M354.9,463.8h6.6M358.2,460.5v6.6M364.6,466.2h6.6M367.9,462.9v6.6M367,466.9h6.6M370.3,463.6v6.6M369,467.5h6.6M372.3,464.2v6.6M380.1,470.9h6.6M383.4,467.6v6.6M382.6,471.5h6.6M385.9,468.2v6.6M385,472h6.6M388.3,468.7v6.6M388.4,472.8h6.6M391.7,469.5v6.6M392.3,473.6h6.6M395.6,470.3v6.6M402,475.7h6.6M405.3,472.4v6.6M403.4,476h6.6M406.7,472.7v6.6M417.5,478h6.6M420.8,474.7v6.6M423.9,479h6.6M427.2,475.7v6.6M427.7,479.5h6.6M431,476.2v6.6M435,480.6h6.6M438.3,477.3v6.6M462.2,483.9h6.6M465.5,480.6v6.6M464.7,484.4h6.6M468,481.1v6.6M468.6,485.1h6.6M471.9,481.8v6.6M470.5,485.5h6.6M473.8,482.2v6.6M474.4,486.3h6.6M477.7,483v6.6M490.4,487.9h6.6M493.7,484.6v6.6M492.4,488h6.6M495.7,484.7v6.6M495.3,488.4h6.6M498.6,485.1v6.6M501.6,489.3h6.6M504.9,486v6.6M503,489.5h6.6M506.3,486.2v6.6M507.9,490.1h6.6M511.2,486.8v6.6M509.8,490.4h6.6M513.1,487.1v6.6M520.5,492.2h6.6M523.8,488.9v6.6M539,492.9h6.6M542.3,489.6v6.6M551.6,493.2h6.6M554.9,489.9v6.6M553.6,493.3h6.6M556.9,490v6.6M563.8,495.3h6.6M567.1,492v6.6M569.6,495.4h6.6M572.9,492.1v6.6M576.4,495.5h6.6M579.7,492.2v6.6M584.7,495.7h6.6M588,492.4v6.6M594.9,495.9h6.6M598.2,492.6v6.6M597.8,495.9h6.6M601.1,492.6v6.6M617.7,496.6h6.6M621,493.3v6.6M620.1,496.6h6.6M623.4,493.3v6.6M622.6,496.7h6.6M625.9,493.4v6.6M624.5,496.8h6.6M627.8,493.5v6.6M626.4,496.8h6.6M629.7,493.5v6.6M634.2,497h6.6M637.5,493.7v6.6M643.5,497.2h6.6M646.8,493.9v6.6M647.8,497.3h6.6M651.1,494v6.6M652.2,498.5h6.6M655.5,495.2v6.6M654.6,499.4h6.6M657.9,496.1v6.6M657.1,500.2h6.6M660.4,496.9v6.6M659,500.9h6.6M662.3,497.6v6.6M701.3,505h6.6M704.6,501.7v6.6" fill="none" stroke="#5294e2" stroke-width="1.25"/>
</g>
<g class="tk" style="font-size:12.4px" fill="#151515">
<text transform="translate(50.2 535.5) scale(0.98 1)" font-size="12.4" font-weight="normal" text-anchor="end" fill="#151515">0.0</text>
<text transform="translate(50.2 494) scale(0.98 1)" font-size="12.4" font-weight="normal" text-anchor="end" fill="#151515">0.1</text>
<text transform="translate(50.2 452.6) scale(0.98 1)" font-size="12.4" font-weight="normal" text-anchor="end" fill="#151515">0.2</text>
<text transform="translate(50.2 411.1) scale(0.98 1)" font-size="12.4" font-weight="normal" text-anchor="end" fill="#151515">0.3</text>
<text transform="translate(50.2 369.6) scale(0.98 1)" font-size="12.4" font-weight="normal" text-anchor="end" fill="#151515">0.4</text>
<text transform="translate(50.2 328.1) scale(0.98 1)" font-size="12.4" font-weight="normal" text-anchor="end" fill="#151515">0.5</text>
<text transform="translate(50.2 286.7) scale(0.98 1)" font-size="12.4" font-weight="normal" text-anchor="end" fill="#151515">0.6</text>
<text transform="translate(50.2 245.2) scale(0.98 1)" font-size="12.4" font-weight="normal" text-anchor="end" fill="#151515">0.7</text>
<text transform="translate(50.2 203.7) scale(0.98 1)" font-size="12.4" font-weight="normal" text-anchor="end" fill="#151515">0.8</text>
<text transform="translate(50.2 162.3) scale(0.98 1)" font-size="12.4" font-weight="normal" text-anchor="end" fill="#151515">0.9</text>
<text transform="translate(50.2 120.8) scale(0.98 1)" font-size="12.4" font-weight="normal" text-anchor="end" fill="#151515">1.0</text>
<text transform="translate(89.5 570.4) scale(0.98 1)" font-size="12.4" font-weight="normal" text-anchor="middle" fill="#151515">.00</text>
<text transform="translate(147.8 570.4) scale(0.98 1)" font-size="12.4" font-weight="normal" text-anchor="middle" fill="#151515">12.00</text>
<text transform="translate(206.1 570.4) scale(0.98 1)" font-size="12.4" font-weight="normal" text-anchor="middle" fill="#151515">24.00</text>
<text transform="translate(264.4 570.4) scale(0.98 1)" font-size="12.4" font-weight="normal" text-anchor="middle" fill="#151515">36.00</text>
<text transform="translate(322.7 570.4) scale(0.98 1)" font-size="12.4" font-weight="normal" text-anchor="middle" fill="#151515">48.00</text>
<text transform="translate(381 570.4) scale(0.98 1)" font-size="12.4" font-weight="normal" text-anchor="middle" fill="#151515">60.00</text>
<text transform="translate(439.3 570.4) scale(0.98 1)" font-size="12.4" font-weight="normal" text-anchor="middle" fill="#151515">72.00</text>
<text transform="translate(497.6 570.4) scale(0.98 1)" font-size="12.4" font-weight="normal" text-anchor="middle" fill="#151515">84.00</text>
<text transform="translate(555.9 570.4) scale(0.98 1)" font-size="12.4" font-weight="normal" text-anchor="middle" fill="#151515">96.00</text>
<text transform="translate(614.2 570.4) scale(0.98 1)" font-size="12.4" font-weight="normal" text-anchor="middle" fill="#151515">108.00</text>
<text transform="translate(672.5 570.4) scale(0.98 1)" font-size="12.4" font-weight="normal" text-anchor="middle" fill="#151515">120.00</text>
</g>
<text x="380.8" y="604.4" font-size="18" font-weight="bold" text-anchor="middle" fill="#000">Months from diagnosis</text>
<text transform="translate(15.6 322) rotate(-90)" font-size="18" font-weight="bold" text-anchor="middle" fill="#000">Cum Survival</text>
<text x="821.6" y="115.4" font-size="18.4" font-weight="bold" text-anchor="middle" fill="#000">HMA/Ven</text>
<path d="M705.8,139.2h12.7v-7.6h14.3v6.6" fill="none" stroke="#8fb0e0" stroke-width="1.4"/>
<text transform="translate(736.7 142.3) scale(0.975 1)" font-size="15.2" font-weight="normal" text-anchor="start" fill="#1c1c1c">1L HMA alone no ven</text>
<path d="M705.8,158.2h12.7v-7.6h14.3v6.6" fill="none" stroke="#d04a6c" stroke-width="1.4"/>
<text transform="translate(736.7 161.3) scale(0.975 1)" font-size="15.2" font-weight="normal" text-anchor="start" fill="#1c1c1c">1L HMA VEN</text>
<path d="M705.8,177.2h12.7v-7.6h14.3v6.6" fill="none" stroke="#6aa06a" stroke-width="1.4"/>
<text transform="translate(736.7 180.3) scale(0.975 1)" font-size="15.2" font-weight="normal" text-anchor="start" fill="#1c1c1c">R/R MDS HMA VEN</text>
<path d="M705.8,192.7h27M719,185.7v14" fill="none" stroke="#8fb8ea" stroke-width="1.4"/>
<text transform="translate(736.7 199.3) scale(0.975 1)" font-size="15.2" font-weight="normal" text-anchor="start" fill="#1c1c1c">HMA-censored</text>
<path d="M705.8,211.7h27M719,204.7v14" fill="none" stroke="#d04a6c" stroke-width="1.4"/>
<text transform="translate(736.7 218.3) scale(0.975 1)" font-size="15.2" font-weight="normal" text-anchor="start" fill="#1c1c1c">1L HMA VEN-censored</text>
<path d="M705.8,230.7h27M719,223.7v14" fill="none" stroke="#4a904a" stroke-width="1.4"/>
<text transform="translate(736.7 237.3) scale(0.975 1)" font-size="15.2" font-weight="normal" text-anchor="start" fill="#1c1c1c">R/R MDS HMA VEN-censored</text></g></g>
</svg>
</body>
</html>
